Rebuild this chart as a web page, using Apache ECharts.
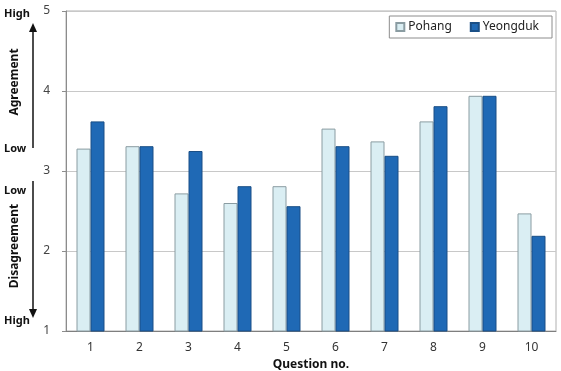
<!DOCTYPE html>
<html>
<head>
<meta charset="utf-8">
<script src="https://cdn.jsdelivr.net/npm/echarts@6/dist/echarts.min.js"></script>
<style>
html,body{margin:0;padding:0;background:#fff;}
#main{width:561px;height:371px;}
</style>
</head>
<body>
<div id="main"></div>
<script>
// 数据
var questions = ['1', '2', '3', '4', '5', '6', '7', '8', '9', '10'];
var pohang = [3.28, 3.31, 2.72, 2.60, 2.81, 3.53, 3.37, 3.62, 3.94, 2.47];
var yeongduk = [3.62, 3.31, 3.25, 2.81, 2.56, 3.31, 3.19, 3.81, 3.94, 2.19];
var yTicks = [1, 2, 3, 4, 5];

var font = '"Noto Sans", "Open Sans", sans-serif';

window.onload = function () {
    var myChart = echarts.init(document.getElementById('main'));
    var option = {
        animation: false,
        textStyle: { fontFamily: font },
        legend: {
            data: ['Pohang', 'Yeongduk'],
            icon: 'rect',
            right: 9,
            top: 16,
            itemWidth: 8,
            itemHeight: 8,
            itemGap: 18,
            padding: [5, 13, 5, 6],
            borderColor: '#8c8c8c',
            borderWidth: 1,
            backgroundColor: '#fff',
            textStyle: { color: '#222', fontSize: 12, fontFamily: font, padding: [0, 0, 0, -1] }
        },
        grid: {
            left: 66,
            right: 5,
            top: 11,
            bottom: 40,
            outerBoundsMode: 'none',
            containLabel: false,
            show: true,
            borderColor: '#b0b0b0',
            borderWidth: 1
        },
        xAxis: {
            type: 'category',
            data: questions,
            name: 'Question no.',
            nameLocation: 'middle',
            nameGap: 26,
            nameTextStyle: { fontWeight: 'bold', fontSize: 12, color: '#111', fontFamily: font },
            axisLine: { lineStyle: { color: '#7f7f7f' } },
            axisTick: { show: false },
            axisLabel: { color: '#333', fontSize: 12, margin: 11, fontFamily: font }
        },
        yAxis: {
            type: 'value',
            min: 1,
            max: 5,
            interval: 1,
            axisLine: { show: true, lineStyle: { color: '#8c8c8c' } },
            axisTick: { show: true, length: 4, lineStyle: { color: '#8c8c8c' } },
            axisLabel: {
                color: '#444', fontSize: 12, margin: 16, fontFamily: font,
                formatter: function (v) { return yTicks.indexOf(v) >= 0 ? v : ''; }
            },
            splitLine: { lineStyle: { color: '#c8c8c8' } }
        },
        series: [{
            name: 'Pohang',
            type: 'bar',
            data: pohang,
            barWidth: 14,
            barGap: '0%',
            itemStyle: { color: '#daeef3', borderColor: '#8a9ca2', borderWidth: 1 }
        }, {
            name: 'Yeongduk',
            type: 'bar',
            data: yeongduk,
            barWidth: 14,
            itemStyle: { color: '#1f69b5', borderColor: '#1a4f86', borderWidth: 1 }
        }],
        graphic: [
            // 左侧注释
            { type: 'text', left: 4, top: 8, style: { text: 'High', font: 'bold 11px ' + font, fill: '#111' } },
            { type: 'line', shape: { x1: 33, y1: 148, x2: 33, y2: 29 }, style: { stroke: '#111', lineWidth: 1.5 } },
            { type: 'polygon', shape: { points: [[33, 23], [29, 32], [37, 32]] }, style: { fill: '#111' } },
            { type: 'text', x: 15, y: 82, rotation: Math.PI / 2, style: { text: 'Agreement', font: 'bold 12px ' + font, fill: '#111', align: 'center', verticalAlign: 'middle' } },
            { type: 'text', left: 4, top: 143, style: { text: 'Low', font: 'bold 11px ' + font, fill: '#111' } },
            { type: 'text', left: 4, top: 185, style: { text: 'Low', font: 'bold 11px ' + font, fill: '#111' } },
            { type: 'line', shape: { x1: 33, y1: 181, x2: 33, y2: 311 }, style: { stroke: '#111', lineWidth: 1.5 } },
            { type: 'polygon', shape: { points: [[33, 318], [29, 309], [37, 309]] }, style: { fill: '#111' } },
            { type: 'text', x: 15, y: 246, rotation: Math.PI / 2, style: { text: 'Disagreement', font: 'bold 12px ' + font, fill: '#111', align: 'center', verticalAlign: 'middle' } },
            { type: 'text', left: 4, top: 315, style: { text: 'High', font: 'bold 11px ' + font, fill: '#111' } }
        ]
    };
    myChart.setOption(option);
};
</script>
</body>
</html>
